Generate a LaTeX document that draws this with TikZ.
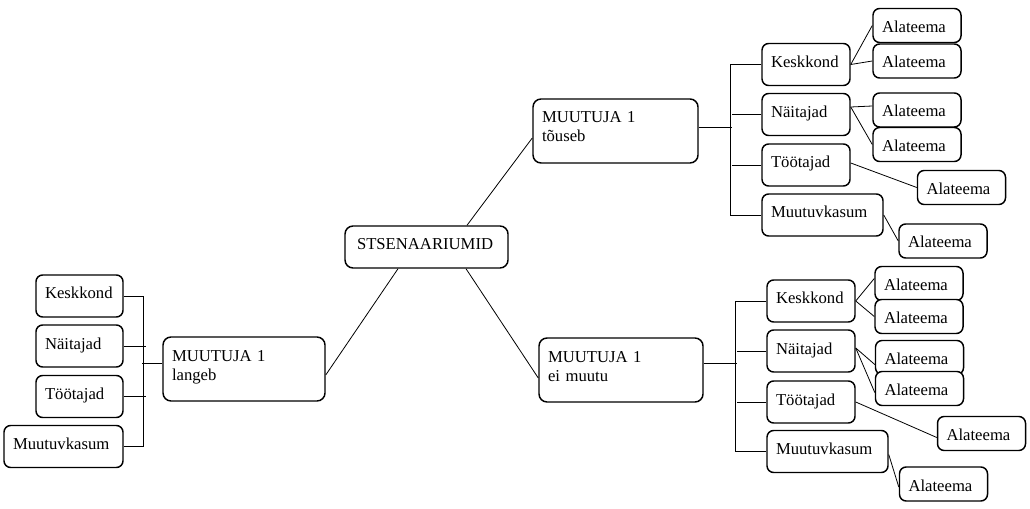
\documentclass[tikz,border=0pt]{standalone}
\usepackage{fontspec}
\setmainfont{Liberation Serif}
\usetikzlibrary{calc}
\begin{document}
\begin{tikzpicture}[x=0.75pt,y=-0.75pt,
  base/.style={draw, line width=1.1pt, fill=white, align=left, inner xsep=6.75pt, inner ysep=0pt,
    font=\fontsize{12.5}{14.25}\selectfont, text height=4.5pt, text depth=0pt},
  bigbox/.style={base, rounded corners=6pt, text width=#1, minimum height=48pt, text height=8pt, text depth=20pt},
  midbox/.style={base, rounded corners=6pt, text width=#1, minimum height=31.5pt},
  smallbox/.style={base, rounded corners=5pt, text width=#1, minimum height=31.5pt},
  subbox/.style={base, rounded corners=5pt, text width=52.5pt, minimum height=25.5pt, text height=10.5pt},
  link/.style={draw, line width=0.6pt}]
\useasboundingbox (0,0) rectangle (1030,509);

% centre
\node[midbox=104.25pt, inner xsep=9pt] (S) at (426.5,247) {STSENAARIUMID};

% upper branch
\node[bigbox=110.25pt] (T) at (615.5,131) {MUUTUJA 1\\tõuseb};
\node[smallbox=52.5pt] (TK) at (806,64.5) {Keskkond};
\node[smallbox=52.5pt] (TN) at (806,114.5) {Näitajad};
\node[smallbox=52.5pt] (TT) at (806,165) {Töötajad};
\node[smallbox=77.25pt] (TM) at (822.5,215) {Muutuvkasum};
\node[subbox] (TA1) at (917,25.5) {Alateema};
\node[subbox] (TA2) at (917,61) {Alateema};
\node[subbox] (TA3) at (917,110) {Alateema};
\node[subbox] (TA4) at (917,144.5) {Alateema};
\node[subbox] (TA5) at (961.5,187.5) {Alateema};
\node[subbox] (TA6) at (943,241) {Alateema};

% lower branch
\node[bigbox=109.5pt] (B) at (621,370) {MUUTUJA 1\\ei muutu};
\node[smallbox=52.5pt] (BK) at (811,301) {Keskkond};
\node[smallbox=52.5pt] (BN) at (811,351) {Näitajad};
\node[smallbox=52.5pt] (BT) at (811,402) {Töötajad};
\node[smallbox=77.25pt] (BM) at (827.5,451.5) {Muutuvkasum};
\node[subbox] (BA1) at (919,283.5) {Alateema};
\node[subbox] (BA2) at (919,316.5) {Alateema};
\node[subbox] (BA3) at (919.5,357.5) {Alateema};
\node[subbox] (BA4) at (919.5,388.5) {Alateema};
\node[subbox] (BA5) at (981.5,433.5) {Alateema};
\node[subbox] (BA6) at (943.5,484) {Alateema};

% left branch
\node[bigbox=108pt] (L) at (244,369) {MUUTUJA 1\\langeb};
\node[smallbox=51.75pt] (LK) at (79.5,296) {Keskkond};
\node[smallbox=51.75pt] (LN) at (79.5,346) {Näitajad};
\node[smallbox=51.75pt] (LT) at (79.5,396.5) {Töötajad};
\node[smallbox=75.75pt] (LM) at (63.5,446.5) {Muutuvkasum};

% main connectors
\draw[link] ($(S.north)+(40.5,0)$) -- ($(T.west)+(0,7)$);
\draw[link] ($(S.south)+(-28.5,0)$) -- ($(L.east)+(0,6)$);
\draw[link] ($(S.south)+(39.5,0)$) -- ($(B.west)+(0,8)$);

% upper bracket
\draw[link] (TK.west) -- ++(-31,0) |- (TM.west);
\draw[link] (TN.west) -- ++(-29,0);
\draw[link] (TT.west) -- ++(-29,0);
\draw[link] ($(T.east)+(0,-4)$) -- ++(33,0);
% upper sub links
\draw[link] (TK.east) -- (TA1.west);
\draw[link] (TK.east) -- (TA2.west);
\draw[link] ($(TN.east)+(0,-7.5)$) -- ($(TA3.west)+(0,-4)$);
\draw[link] ($(TN.east)+(0,-7.5)$) -- (TA4.west);
\draw[link] ($(TT.east)+(0,-2)$) -- (TA5.west);
\draw[link] (TM.east) -- (TA6.west);

% lower bracket
\draw[link] (BK.west) -- ++(-31,0) |- (BM.west);
\draw[link] (BN.west) -- ++(-29,0);
\draw[link] (BT.west) -- ++(-29,0);
\draw[link] ($(B.east)+(0,-7)$) -- ++(33,0);
% lower sub links
\draw[link] (BK.east) -- ($(BA1.west)+(0,-5)$);
\draw[link] (BK.east) -- (BA2.west);
\draw[link] ($(BN.east)+(0,-3)$) -- ($(BA3.west)+(0,7)$);
\draw[link] ($(BN.east)+(0,-3)$) -- ($(BA4.west)+(0,4)$);
\draw[link] (BT.east) -- ($(BA5.west)+(0,4)$);
\draw[link] ($(BM.east)+(0,3)$) -- ($(BA6.west)+(0,3)$);

% left bracket
\draw[link] (LK.east) -- ++(20,0) |- (LM.east);
\draw[link] (LN.east) -- ++(22,0);
\draw[link] (LT.east) -- ++(22,0);
\draw[link] ($(L.west)+(0,-6)$) -- ++(-20,0);
\end{tikzpicture}
\end{document}
